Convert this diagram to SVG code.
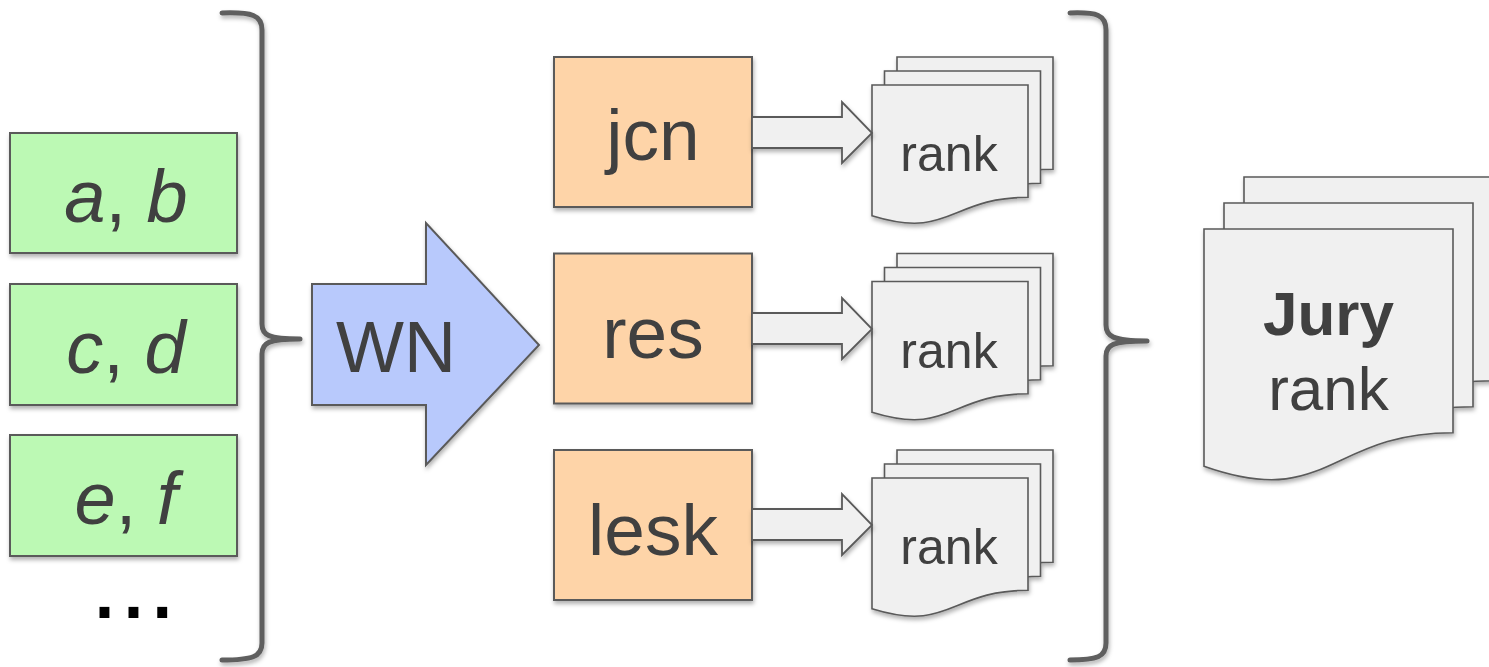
<svg xmlns="http://www.w3.org/2000/svg" xmlns:xlink="http://www.w3.org/1999/xlink" width="1489" height="667" viewBox="0 0 1489 667">
<style>
.lbl{font-family:"Liberation Sans",Arial,sans-serif;fill:#404040;text-anchor:middle}
.green{fill:#bcf9b4;stroke:#5a5a5a;stroke-width:2}
.orange{fill:#fed4a8;stroke:#5a5a5a;stroke-width:2}
.doc{fill:#f0f0f0;stroke:#5a5a5a;stroke-width:1.6}
.arr{fill:#f0f0f0;stroke:#5a5a5a;stroke-width:1.8}
.brace{fill:none;stroke:#5f5f5f;stroke-width:5;stroke-linecap:round;stroke-linejoin:round}
</style>
<defs>
<filter id="sh" x="-10%" y="-10%" width="130%" height="130%">
<feDropShadow dx="1" dy="3" stdDeviation="2" flood-color="#000" flood-opacity="0.3"/>
</filter>
<path id="docS" d="M0,0 H156 V112.3 C78,112.3 78,155 0,130.8 Z"/>
<path id="docL" d="M0,0 H249 V203.7 C124.5,203.7 124.5,281.3 0,237.2 Z"/>
</defs>
<rect width="1489" height="667" fill="#ffffff"/>

<g id="pair-ab" filter="url(#sh)">
<rect class="green" x="10" y="133" width="227" height="120"/>
<text class="lbl" x="126" y="222" font-size="74"><tspan font-style="italic">a</tspan>, <tspan font-style="italic">b</tspan></text>
</g>
<g id="pair-cd" filter="url(#sh)">
<rect class="green" x="10" y="284" width="227" height="121"/>
<text class="lbl" x="126" y="373" font-size="74"><tspan font-style="italic">c</tspan>, <tspan font-style="italic">d</tspan></text>
</g>
<g id="pair-ef" filter="url(#sh)">
<rect class="green" x="10" y="435" width="227" height="121"/>
<text class="lbl" x="126" y="524" font-size="74"><tspan font-style="italic">e</tspan>, <tspan font-style="italic">f</tspan></text>
</g>
<g id="ellipsis">
<text x="90" y="618" font-family="Liberation Sans, Arial, sans-serif" font-size="104" fill="#000">...</text>
</g>

<g id="wn" filter="url(#sh)">
<polygon points="312,284 426,284 426,223 539,345 426,465 426,405 312,405" fill="#b8c9fc" stroke="#5a5a5a" stroke-width="2"/>
<text class="lbl" x="396" y="372" font-size="72">WN</text>
</g>

<g id="jcn" filter="url(#sh)">
<rect class="orange" x="554" y="57" width="198" height="150"/>
<text class="lbl" x="653" y="160" font-size="73">jcn</text>
</g>
<g id="res" filter="url(#sh)">
<rect class="orange" x="554" y="253.5" width="198" height="150"/>
<text class="lbl" x="653" y="358" font-size="73">res</text>
</g>
<g id="lesk" filter="url(#sh)">
<rect class="orange" x="554" y="450" width="198" height="150"/>
<text class="lbl" x="653" y="555" font-size="73">lesk</text>
</g>

<g id="rank-jcn" filter="url(#sh)">
<use href="#docS" xlink:href="#docS" class="doc" x="897" y="57"/>
<use href="#docS" xlink:href="#docS" class="doc" x="884.5" y="71"/>
<use href="#docS" xlink:href="#docS" class="doc" x="872" y="85"/>
<text class="lbl" x="949" y="171" font-size="50">rank</text>
</g>
<g id="rank-res" filter="url(#sh)">
<use href="#docS" xlink:href="#docS" class="doc" x="897" y="253.5"/>
<use href="#docS" xlink:href="#docS" class="doc" x="884.5" y="267.5"/>
<use href="#docS" xlink:href="#docS" class="doc" x="872" y="281.5"/>
<text class="lbl" x="949" y="367.5" font-size="50">rank</text>
</g>
<g id="rank-lesk" filter="url(#sh)">
<use href="#docS" xlink:href="#docS" class="doc" x="897" y="450"/>
<use href="#docS" xlink:href="#docS" class="doc" x="884.5" y="464"/>
<use href="#docS" xlink:href="#docS" class="doc" x="872" y="478"/>
<text class="lbl" x="949" y="564" font-size="50">rank</text>
</g>

<g id="jury" filter="url(#sh)">
<use href="#docL" xlink:href="#docL" class="doc" x="1244" y="177"/>
<use href="#docL" xlink:href="#docL" class="doc" x="1224" y="203"/>
<use href="#docL" xlink:href="#docL" class="doc" x="1204" y="229"/>
<text class="lbl" x="1328.5" y="335" font-size="62" font-weight="bold">Jury</text>
<text class="lbl" x="1328.5" y="410" font-size="62">rank</text>
</g>

<g id="connectors">
<g filter="url(#sh)">
<path class="brace" d="M222,13 C252,12 262,15 262,30 L262,324 C262,335 268,339 300,339 C268,339 262,343 262,354 L262,643 C262,657 252,660 222,660"/>
<path class="brace" d="M1070,13 C1097,12 1106,15 1106,30 L1106,325 C1106,336 1112,341 1147,341 C1112,341 1106,345 1106,356 L1106,643 C1106,657 1097,660 1070,660"/>
</g>
<g filter="url(#sh)">
<polygon class="arr" points="752,117 842,117 842,102 872,133 842,163 842,148 752,148"/>
<polygon class="arr" points="752,313 842,313 842,298 872,329 842,359 842,344 752,344"/>
<polygon class="arr" points="752,509 842,509 842,494 872,525 842,555 842,540 752,540"/>
</g>
</g>
</svg>
